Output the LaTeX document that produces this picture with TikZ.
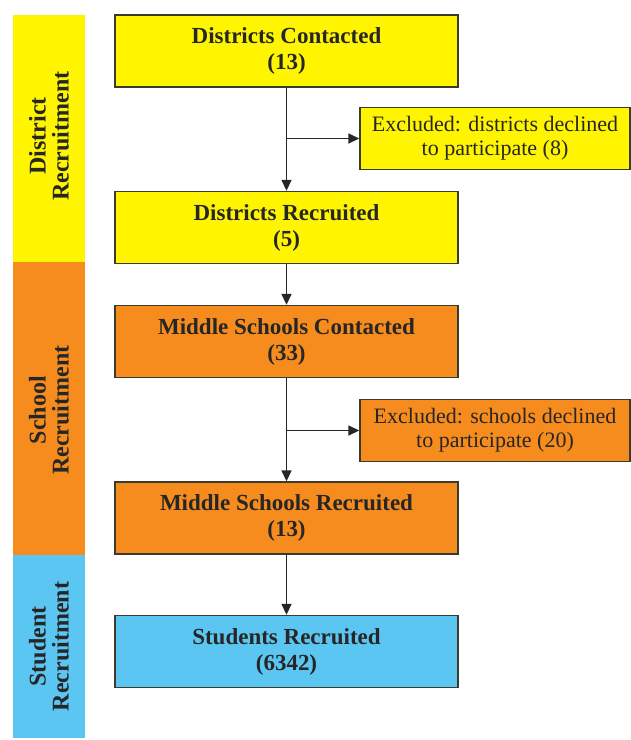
\documentclass[tikz,border=0pt]{standalone}
\usepackage{fontspec}
\setmainfont{Liberation Serif}
\usepackage{xcolor}
\usetikzlibrary{arrows.meta}
\definecolor{stageyellow}{HTML}{FFF500}
\definecolor{stageorange}{HTML}{F78C1E}
\definecolor{stageblue}{HTML}{5CC6F2}
\definecolor{edgegray}{HTML}{3C3A2C}
\begin{document}
\begin{tikzpicture}[x=1pt,y=-1pt,
  stagelabel/.style={rotate=90,align=center,inner sep=0pt,text=black!85,font=\bfseries\fontsize{24}{23}\selectfont},
  mainbox/.style={draw=edgegray,line width=1.4pt,minimum width=343pt,minimum height=72pt,align=center,text=black!85,font=\bfseries\fontsize{23}{26}\selectfont},
  exclbox/.style={draw=edgegray,line width=1.4pt,minimum width=270pt,minimum height=62pt,align=center,text=black!85,font=\fontsize{22}{24}\selectfont},
  flow/.style={line width=1.5pt,draw=black!85,-{Triangle[length=11pt,width=10pt]}}]
  \useasboundingbox (0,0) rectangle (631,740);
  % stage bars on the left
  \fill[stageyellow] (13,15) rectangle (85,262);
  \fill[stageorange] (13,262) rectangle (85,555);
  \fill[stageblue] (13,555) rectangle (85,738);
  \node[stagelabel] (lblDistrict) at (49,136) {District\\Recruitment};
  \node[stagelabel] (lblSchool) at (49,410) {School\\Recruitment};
  \node[stagelabel] (lblStudent) at (49,646.5) {Student\\Recruitment};
  % district recruitment
  \node[mainbox,fill=stageyellow] (distContact) at (286.5,51) {Districts Contacted\\(13)};
  \node[exclbox,fill=stageyellow] (distExcl) at (495,138.5) {Excluded: districts declined\\to participate (8)};
  \node[mainbox,fill=stageyellow] (distRecruit) at (286.5,227.5) {Districts Recruited\\(5)};
  % school recruitment
  \node[mainbox,fill=stageorange] (schContact) at (286.5,341.5) {Middle Schools Contacted\\(33)};
  \node[exclbox,fill=stageorange] (schExcl) at (495,430.5) {Excluded: schools declined\\to participate (20)};
  \node[mainbox,fill=stageorange] (schRecruit) at (286.5,518) {Middle Schools Recruited\\(13)};
  % student recruitment
  \node[mainbox,fill=stageblue] (stuRecruit) at (286.5,651.5) {Students Recruited\\(6342)};
  % connectors
  \draw[flow] (distContact) -- (distRecruit);
  \draw[flow] (distContact.south |- distExcl.west) -- (distExcl.west);
  \draw[flow] (distRecruit) -- (schContact);
  \draw[flow] (schContact) -- (schRecruit);
  \draw[flow] (schContact.south |- schExcl.west) -- (schExcl.west);
  \draw[flow] (schRecruit) -- (stuRecruit);
\end{tikzpicture}
\end{document}
